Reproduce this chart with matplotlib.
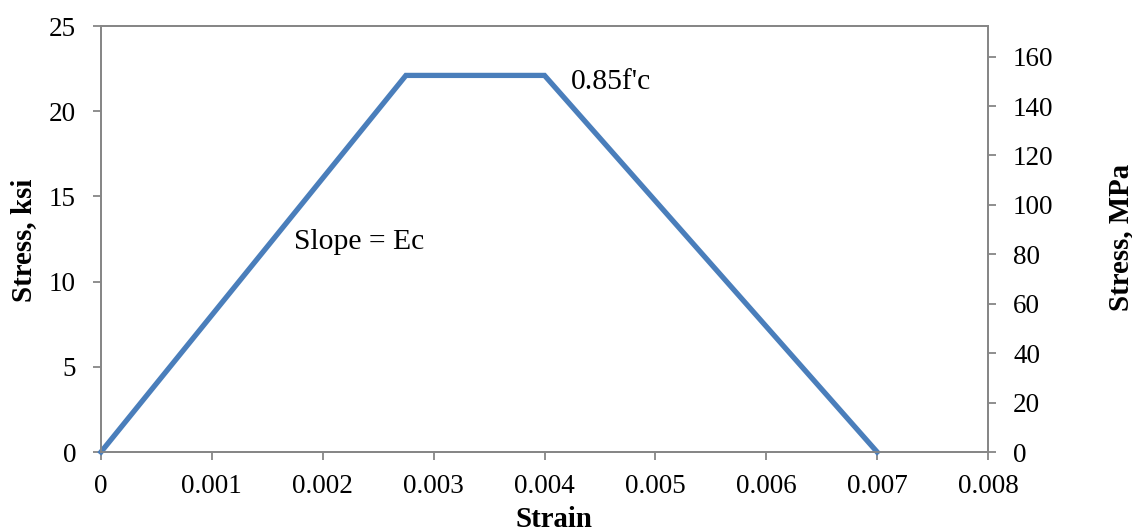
import matplotlib
matplotlib.use("Agg")
import matplotlib.pyplot as plt

strain = [0.0, 0.00275, 0.004, 0.007]
stress_ksi = [0.0, 22.1, 22.1, 0.0]
x_ticks = [0, 0.001, 0.002, 0.003, 0.004, 0.005, 0.006, 0.007, 0.008]
x_tick_labels = ["0", "0.001", "0.002", "0.003", "0.004", "0.005", "0.006", "0.007", "0.008"]
ksi_ticks = [0, 5, 10, 15, 20, 25]
mpa_ticks = [0, 20, 40, 60, 80, 100, 120, 140, 160]
KSI_TO_MPA = 6.895

plt.rcParams['font.family'] = ['Liberation Serif', 'DejaVu Serif']
fs = 19.5
fs_lab = 20.8
fs_ann = 21.3
gray = '#868686'

fig = plt.figure(figsize=(11.32, 5.31), dpi=100)
ax = fig.add_axes([101/1132, 1-452/531, (988-101)/1132, (452-26)/531])
ax.plot(strain, stress_ksi, color='#4A7EBB', lw=3.8, solid_joinstyle='miter', zorder=3, clip_on=False)
ax.set_xlim(0, 0.008)
ax.set_ylim(0, 25)
ax.set_xticks(x_ticks)
ax.set_xticklabels(x_tick_labels)
ax.set_yticks(ksi_ticks)
for s in ax.spines.values():
    s.set_color(gray)
    s.set_linewidth(1.3)
ax.tick_params(axis='both', direction='out', length=6, width=1.3, color=gray, labelsize=fs)
ax.tick_params(axis='x', pad=10)
ax.tick_params(axis='y', pad=12)

ax2 = ax.twinx()
ax2.set_ylim(0, 25*KSI_TO_MPA)
ax2.set_yticks(mpa_ticks)
for s in ax2.spines.values():
    s.set_color(gray)
    s.set_linewidth(1.3)
ax2.tick_params(axis='y', direction='out', length=6, width=1.3, color=gray, labelsize=fs, pad=12)

ax.set_ylabel("Stress, ksi", fontsize=fs_lab, fontweight='bold')
ax.yaxis.set_label_coords(-(101-37)/887, (452-240)/426)
ax2.set_ylabel("Stress, MPa", fontsize=fs_lab, fontweight='bold')
ax2.yaxis.set_label_coords((1107-101)/887, (452-237)/426)
ax.set_xlabel("Strain", fontsize=fs_lab, fontweight='bold')
ax.xaxis.set_label_coords((554-101)/887, -(506-452)/426)

ax.text(0.00174, 12.3, "Slope = Ec", fontsize=fs_ann, ha='left', va='center')
ax.text(0.00424, 21.7, "0.85f'c", fontsize=fs_ann, ha='left', va='center')

fig.savefig("out.png", dpi=100)
